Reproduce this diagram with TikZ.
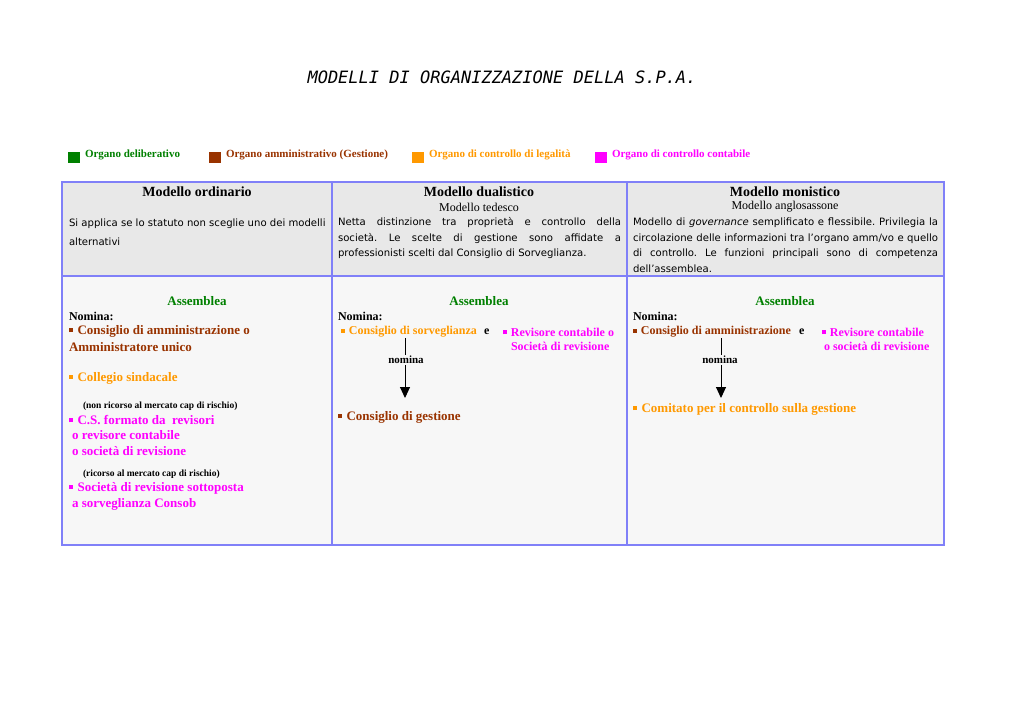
\documentclass[tikz,border=0pt]{standalone}
\usepackage{fontspec}
\usetikzlibrary{arrows.meta}
\setmainfont{Liberation Serif}
\newfontfamily\descfont{DejaVu Sans}
\newfontfamily\titlefont{DejaVu Sans Mono}
\definecolor{cgreen}{HTML}{008000}
\definecolor{cbrown}{HTML}{993300}
\definecolor{corange}{HTML}{FF9900}
\definecolor{cmag}{HTML}{FF00FF}
\definecolor{cborder}{HTML}{8080F8}
\definecolor{chdr}{HTML}{E8E8E8}
\definecolor{cbody}{HTML}{F7F7F7}
\newcommand{\bul}{\rule[0.16em]{0.33em}{0.33em}\hspace{0.33em}}
\frenchspacing
\begin{document}
\begin{tikzpicture}[x=1pt,y=-1pt,
  every node/.style={inner sep=0pt,outer sep=0pt},
  lg/.style={anchor=west,font=\fontsize{11}{12}\selectfont\bfseries},
  lgsq/.style={minimum width=12pt,minimum height=11pt},
  hd/.style={font=\fontsize{14}{16}\selectfont\bfseries},
  sub/.style={font=\fontsize{12}{14}\selectfont},
  desc/.style={anchor=west,font=\descfont\fontsize{10.1}{12}\selectfont},
  asm/.style={font=\fontsize{13}{15}\selectfont\bfseries,text=cgreen},
  nom/.style={anchor=west,font=\fontsize{12}{14}\selectfont\bfseries},
  itA/.style={anchor=west,font=\fontsize{13}{15}\selectfont\bfseries},
  itB/.style={anchor=west,font=\fontsize{12}{14}\selectfont\bfseries},
  note/.style={anchor=west,font=\fontsize{9.5}{11}\selectfont\bfseries},
  lbl/.style={font=\fontsize{11}{13}\selectfont\bfseries},
  tab/.style={draw=cborder,line width=2.2pt},
  arr/.style={line width=1pt,-{Triangle[width=10pt,length=11pt]}},
]
\useasboundingbox (0,0) rectangle (1024,724);
\fill[white] (0,0) rectangle (1024,724);

% title
\node[font=\titlefont\itshape\fontsize{17}{18}\selectfont] (title) at (502,77) {MODELLI DI ORGANIZZAZIONE DELLA S.P.A.};

% legend
\node[lgsq,fill=cgreen] (sq1) at (74,157) {};
\node[lg,text=cgreen] (l1) at (85,155) {Organo deliberativo};
\node[lgsq,fill=cbrown] (sq2) at (215,157) {};
\node[lg,text=cbrown] (l2) at (226,155) {Organo amministrativo (Gestione)};
\node[lgsq,fill=corange] (sq3) at (418,157) {};
\node[lg,text=corange] (l3) at (429,155) {Organo di controllo di legalità};
\node[lgsq,fill=cmag] (sq4) at (601,157) {};
\node[lg,text=cmag] (l4) at (612,155) {Organo di controllo contabile};

% table
\fill[chdr] (62,182) rectangle (944,276);
\fill[cbody] (62,276) rectangle (944,545);
\draw[tab] (62,182) rectangle (944,545);
\draw[tab] (62,276) -- (944,276);
\draw[tab] (332,182) -- (332,545);
\draw[tab] (627,182) -- (627,545);

% headers
\node[hd] (h1) at (197,192) {Modello ordinario};
\node[hd] (h2) at (479,192) {Modello dualistico};
\node[hd] (h3) at (785,192) {Modello monistico};
\node[sub] (s2) at (479,207) {Modello tedesco};
\node[sub] (s3) at (785,207) {Modello anglosassone};

% descriptions
\node[desc] (d11) at (69,224) {Si applica se lo statuto non sceglie uno dei modelli};
\node[desc] (d12) at (69,241.5) {alternativi};
\node[desc] (d21) at (338,223) {\makebox[283pt][s]{Netta distinzione tra proprietà e controllo della}};
\node[desc] (d22) at (338,238.5) {\makebox[283pt][s]{società. Le scelte di gestione sono affidate a}};
\node[desc] (d23) at (338,254) {professionisti scelti dal Consiglio di Sorveglianza.};
\node[desc] (d31) at (633,223) {\makebox[305pt][s]{Modello di \textit{governance} semplificato e flessibile. Privilegia la}};
\node[desc] (d32) at (633,238.5) {\makebox[305pt][s]{circolazione delle informazioni tra l’organo amm/vo e quello}};
\node[desc] (d33) at (633,254) {\makebox[305pt][s]{di controllo. Le funzioni principali sono di competenza}};
\node[desc] (d34) at (633,269) {dell’assemblea.};

% column 1
\node[asm] (a1) at (197,301.5) {Assemblea};
\node[nom] (n1) at (69,316) {Nomina:};
\node[itA,text=cbrown] (c1a) at (69,331) {\bul Consiglio di amministrazione o};
\node[itA,text=cbrown] (c1b) at (69,347) {Amministratore unico};
\node[itA,text=corange] (c1c) at (69,378) {\bul Collegio sindacale};
\node[note] (c1n1) at (83,406) {(non ricorso al mercato cap di rischio)};
\node[itA,text=cmag] (c1d) at (69,420) {\bul C.S. formato da\ \ revisori};
\node[itA,text=cmag] (c1e) at (72,435) {o revisore contabile};
\node[itA,text=cmag] (c1f) at (72,451) {o società di revisione};
\node[note] (c1n2) at (83,474) {(ricorso al mercato cap di rischio)};
\node[itA,text=cmag] (c1g) at (69,488) {\bul Società di revisione sottoposta};
\node[itA,text=cmag] (c1h) at (72,504) {a sorveglianza Consob};

% column 2
\node[asm] (a2) at (479,301.5) {Assemblea};
\node[nom] (n2) at (338,316) {Nomina:};
\node[itB,text=corange] (c2a) at (341,332) {\bul Consiglio di sorveglianza};
\node[itB] (e2) at (484,332) {e};
\node[itB,text=cmag] (c2b) at (503,332) {\bul Revisore contabile o};
\node[itB,text=cmag] (c2c) at (511,346) {Società di revisione};
\coordinate (t2) at (405,338);
\node[lbl,inner sep=1pt] (m2) at (406,360) {nomina};
\node[itA,text=cbrown] (c2d) at (338,417) {\bul Consiglio di gestione};
\coordinate (b2) at (405,398);
\draw[line width=1pt] (t2) -- (t2 |- m2.north);
\draw[arr] (m2.south -| t2) -- (b2);

% column 3
\node[asm] (a3) at (785,301.5) {Assemblea};
\node[nom] (n3) at (633,316) {Nomina:};
\node[itB,text=cbrown] (c3a) at (633,332) {\bul Consiglio di amministrazione};
\node[itB] (e3) at (799,332) {e};
\node[itB,text=cmag] (c3b) at (822,332) {\bul Revisore contabile};
\node[itB,text=cmag] (c3c) at (824,346) {o società di revisione};
\coordinate (t3) at (721,338);
\node[lbl,inner sep=1pt] (m3) at (720,360) {nomina};
\node[itA,text=corange] (c3d) at (633,409) {\bul Comitato per il controllo sulla gestione};
\coordinate (b3) at (721,398);
\draw[line width=1pt] (t3) -- (t3 |- m3.north);
\draw[arr] (m3.south -| t3) -- (b3);
\end{tikzpicture}
\end{document}
